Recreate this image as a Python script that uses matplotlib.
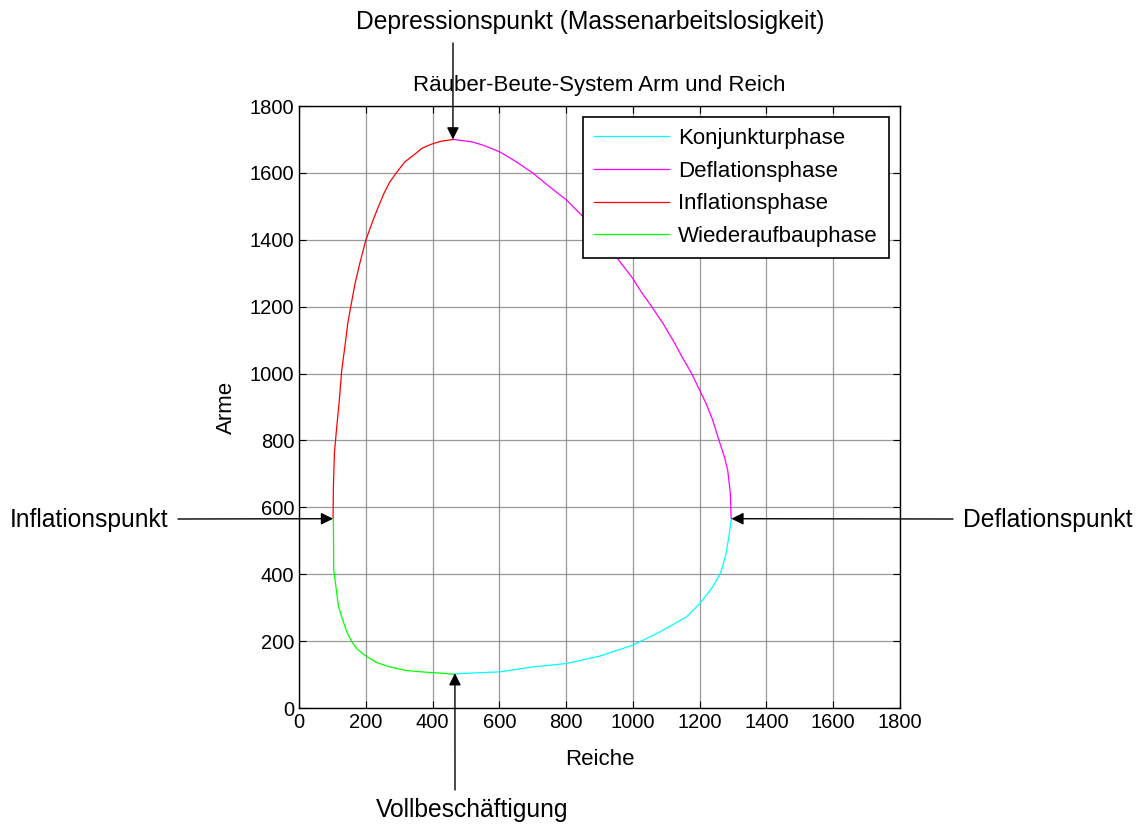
import matplotlib
matplotlib.use("Agg")
import matplotlib.pyplot as plt

plt.rcParams['font.family'] = ['Liberation Sans', 'DejaVu Sans']

# ---- data ----
konj_x = [462, 482, 601, 701, 801, 900, 1000, 1080, 1160, 1200, 1239, 1264, 1279, 1289, 1294, 1295]
konj_y = [101, 103, 108, 123, 133, 155, 188, 227, 272, 312, 362, 407, 462, 522, 561, 567]

defl_x = [1295, 1294, 1292, 1284, 1274, 1257, 1239, 1219, 1200, 1175, 1150, 1120, 1090, 1055,
          1025, 1000, 950, 905, 861, 801, 751, 701, 651, 601, 551, 517, 462]
defl_y = [567, 571, 641, 711, 751, 803, 861, 911, 950, 1002, 1045, 1100, 1150, 1202,
          1244, 1284, 1349, 1405, 1459, 1519, 1558, 1599, 1633, 1663, 1683, 1693, 1700]

infl_x = [462, 427, 397, 367, 347, 317, 292, 272, 255, 237, 222, 200, 182, 168, 155, 146,
          140, 128, 120, 113, 106, 103, 102]
infl_y = [1700, 1695, 1686, 1673, 1656, 1633, 1601, 1573, 1540, 1497, 1459, 1399, 1329, 1270,
          1200, 1150, 1100, 1010, 911, 841, 761, 661, 567]

wied_x = [102, 103, 104, 111, 118, 128, 143, 157, 175, 197, 232, 272, 322, 392, 430, 462]
wied_y = [567, 561, 413, 360, 305, 272, 228, 200, 175, 158, 136, 123, 112, 106, 104, 101]

series_labels = ['Konjunkturphase', 'Deflationsphase', 'Inflationsphase', 'Wiederaufbauphase']
series_colors = ['#00FFFF', '#FF00FF', '#FF0000', '#00FF00']

ticks = [0, 200, 400, 600, 800, 1000, 1200, 1400, 1600, 1800]

# annotation points (data) on the curve
infl_pt = (102, 566)
defl_pt = (1295, 566)
depr_pt = (461, 1700)
voll_pt = (467, 104)

FS_TICK = 14.5
FS_LAB = 16
FS_ANN = 17.7

fig = plt.figure(figsize=(11.39, 8.25), dpi=100)
ax = fig.add_axes([299/1139, 1 - 708/825, 601/1139, 602/825])

series = [(konj_x, konj_y), (defl_x, defl_y), (infl_x, infl_y), (wied_x, wied_y)]
for (xs, ys), lab, col in zip(series, series_labels, series_colors):
    ax.plot(xs, ys, color=col, lw=0.9, label=lab, zorder=3)

ax.set_xlim(0, 1800)
ax.set_ylim(0, 1800)
ax.set_xticks(ticks)
ax.set_yticks(ticks)
ax.grid(True, color='0.5', lw=0.9, alpha=0.8)
ax.tick_params(direction='in', top=True, right=True, length=5, width=0.8, labelsize=FS_TICK)
for sp in ax.spines.values():
    sp.set_linewidth(1.0)

ax.set_xlabel('Reiche', fontsize=FS_LAB, labelpad=12)
ax.set_ylabel('Arme', fontsize=FS_LAB, labelpad=9)
ax.set_title('Räuber-Beute-System Arm und Reich', fontsize=FS_LAB, pad=11)

leg = ax.legend(loc='upper right', fontsize=FS_LAB, frameon=True, fancybox=False,
                handlelength=3.4, labelspacing=0.52, borderaxespad=0.5,
                handletextpad=0.4, borderpad=0.5)
leg.get_frame().set_edgecolor('black')
leg.get_frame().set_linewidth(1.2)
leg.get_frame().set_alpha(1)

arrow = dict(arrowstyle='-|>', color='black', lw=1.0, mutation_scale=18, shrinkA=0, shrinkB=0)

ax.annotate('', xy=depr_pt, xycoords='data', xytext=(453/1139, 1 - 43/825),
            textcoords='figure fraction', arrowprops=arrow, annotation_clip=False)
ax.annotate('', xy=infl_pt, xycoords='data', xytext=(178/1139, 1 - 519/825),
            textcoords='figure fraction', arrowprops=arrow, annotation_clip=False)
ax.annotate('', xy=defl_pt, xycoords='data', xytext=(953/1139, 1 - 519/825),
            textcoords='figure fraction', arrowprops=arrow, annotation_clip=False)
ax.annotate('', xy=voll_pt, xycoords='data', xytext=(455/1139, 1 - 790/825),
            textcoords='figure fraction', arrowprops=arrow, annotation_clip=False)

fig.text(590/1139, 1 - 22/825, 'Depressionspunkt (Massenarbeitslosigkeit)', fontsize=FS_ANN,
         ha='center', va='center')
fig.text(10/1139, 1 - 520/825, 'Inflationspunkt', fontsize=FS_ANN, ha='left', va='center')
fig.text(963/1139, 1 - 520/825, 'Deflationspunkt', fontsize=FS_ANN, ha='left', va='center')
fig.text(472/1139, 1 - 810/825, 'Vollbeschäftigung', fontsize=FS_ANN, ha='center', va='center')

fig.savefig('out.png', dpi=100, facecolor='white')
